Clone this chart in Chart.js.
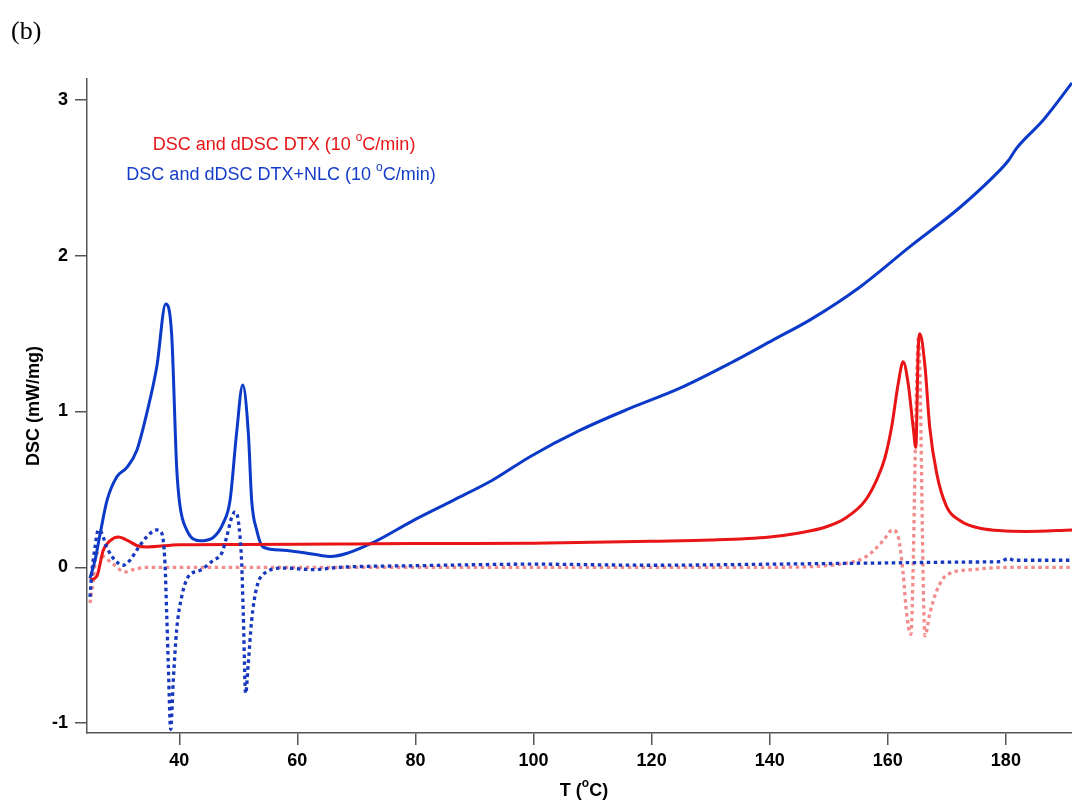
<!DOCTYPE html>
<html>
<head>
<meta charset="utf-8">
<script src="https://cdn.jsdelivr.net/npm/chart.js@4.4.1/dist/chart.umd.min.js"></script>
<style>
body { margin: 0; background: #fff; }
#wrap { width: 1072px; height: 801px; }
</style>
</head>
<body>
<div id="wrap"><canvas id="myChart" width="1072" height="801"></canvas></div>
<script>
// values, T in degC, DSC in mW/mg
const dscDtxT = [24.88, 26.0, 27.13, 28.26, 29.67, 31.36, 32.79, 34.48, 40, 50, 60, 70, 80, 90, 100, 110, 120, 130, 140, 145, 149.6, 153, 156.2, 158.1, 159.5, 160.65, 161.77, 162.6, 163.45, 164.3, 164.75, 165.15, 165.44, 166.3, 167.1, 168.3, 169.96, 172.2, 175.6, 183.5, 191.2];
const dscDtxY = [-0.08, -0.06, 0.11, 0.17, 0.195, 0.17, 0.14, 0.13, 0.145, 0.147, 0.148, 0.15, 0.152, 0.152, 0.155, 0.16, 0.167, 0.175, 0.195, 0.22, 0.26, 0.32, 0.43, 0.56, 0.70, 0.90, 1.18, 1.32, 1.18, 0.90, 0.77, 1.39, 1.50, 1.29, 0.90, 0.60, 0.39, 0.30, 0.25, 0.23, 0.24];

const ddscDtxT = [24.88, 25.44, 26.0, 27.13, 28.8, 30.8, 32.2, 34.5, 60, 100, 140, 151.9, 156.4, 159.2, 160.8, 161.77, 162.6, 163.2, 163.9, 165.2, 166.3, 167.1, 168.3, 169.96, 174.4, 180.1, 191.2];
const ddscDtxY = [-0.23, -0.08, 0.09, 0.07, 0.02, -0.03, -0.015, 0, 0, 0, 0, 0.02, 0.07, 0.17, 0.24, 0.195, -0.04, -0.30, -0.43, 1.48, -0.44, -0.30, -0.15, -0.05, -0.015, 0, 0];

const dscNlcT = [24.88, 25.73, 26.57, 27.76, 29.4, 31.1, 32.8, 34.5, 36.2, 37.7, 38.7, 39.56, 40.1, 41.25, 43.5, 45.7, 47.4, 48.6, 49.7, 50.74, 51.7, 52.26, 53.1, 54.2, 57.6, 63.8, 65.5, 72.3, 79.6, 86.4, 93.1, 99.4, 107.9, 116.3, 124.8, 133.3, 140.6, 146.9, 155.3, 163.8, 172.2, 179.0, 180.4, 181.8, 186.3, 191.2];
const dscNlcY = [-0.07, 0.045, 0.21, 0.43, 0.58, 0.64, 0.75, 0.99, 1.29, 1.69, 1.50, 0.64, 0.40, 0.24, 0.17, 0.19, 0.28, 0.43, 0.86, 1.17, 0.86, 0.43, 0.24, 0.13, 0.11, 0.077, 0.07, 0.15, 0.30, 0.43, 0.56, 0.71, 0.88, 1.02, 1.15, 1.31, 1.46, 1.59, 1.80, 2.06, 2.31, 2.55, 2.61, 2.69, 2.87, 3.11];

const ddscNlcT = [24.88, 25.17, 25.73, 26.28, 26.86, 27.7, 29.11, 30.52, 31.65, 32.79, 34.48, 36.17, 37.02, 37.58, 37.87, 38.14, 38.54, 38.98, 39.56, 40.4, 41.52, 43.51, 45.76, 47.18, 48.03, 48.87, 49.43, 49.99, 50.57, 50.84, 51.24, 51.68, 52.26, 53.11, 54.8, 57.6, 62.7, 67.2, 80, 100, 120, 140, 150, 160, 175, 179, 180.4, 181.5, 191.2];
const ddscNlcY = [-0.19, -0.04, 0.13, 0.24, 0.22, 0.13, 0.045, 0.013, 0.045, 0.11, 0.195, 0.24, 0.22, 0.025, -0.30, -0.62, -1.04, -0.73, -0.40, -0.19, -0.06, -0.02, 0.045, 0.09, 0.195, 0.32, 0.355, 0.30, 0.025, -0.30, -0.81, -0.62, -0.34, -0.13, -0.03, -0.005, -0.015, 0.0, 0.01, 0.02, 0.013, 0.02, 0.024, 0.028, 0.034, 0.036, 0.056, 0.045, 0.045];

const xTicks = [40, 60, 80, 100, 120, 140, 160, 180];
const yTicks = [-1, 0, 1, 2, 3];

const legendRed = [['DSC and dDSC DTX (10 ', false], ['o', true], ['C/min)', false]];
const legendBlue = [['DSC and dDSC DTX+NLC (10 ', false], ['o', true], ['C/min)', false]];
const xTitle = [['T (', false], ['o', true], ['C)', false]];

const sans = '"Liberation Sans", Arial, Helvetica, sans-serif';

function toPoints(xs, ys) {
    return xs.map((t, i) => ({ x: t, y: ys[i] }));
}

// text with a raised small "o" for the degree sign
function drawParts(ctx, parts, cx, y, size, weight, color) {
    const big = `${weight} ${size}px ${sans}`;
    const small = `${weight} ${Math.round(size * 0.65)}px ${sans}`;
    let total = 0;
    parts.forEach(p => {
        ctx.font = p[1] ? small : big;
        total += ctx.measureText(p[0]).width;
    });
    let x = cx - total / 2;
    ctx.fillStyle = color;
    ctx.textAlign = 'left';
    ctx.textBaseline = 'alphabetic';
    parts.forEach(p => {
        ctx.font = p[1] ? small : big;
        ctx.fillText(p[0], x, p[1] ? y - size * 0.48 : y);
        x += ctx.measureText(p[0]).width;
    });
}

const textPlugin = {
    id: 'texts',
    afterDraw(chart) {
        const ctx = chart.ctx;
        ctx.save();
        ctx.fillStyle = '#000';
        ctx.font = '26px "Liberation Serif", "Times New Roman", serif';
        ctx.textAlign = 'left';
        ctx.textBaseline = 'alphabetic';
        ctx.fillText('(b)', 11, 39);
        drawParts(ctx, legendRed, 284, 150, 18, 'normal', 'rgb(232,20,22)');
        drawParts(ctx, legendBlue, 281, 180, 18, 'normal', 'rgb(20,60,200)');
        drawParts(ctx, xTitle, 584, 796, 18, 'bold', '#000');
        ctx.restore();
    }
};

const config = {
    type: 'line',
    data: {
        datasets: [
            {
                label: 'dDSC DTX+NLC',
                data: toPoints(ddscNlcT, ddscNlcY),
                borderColor: 'rgb(22,55,190)',
                borderWidth: 3.3,
                borderDash: [3.5, 3.5],
            },
            {
                label: 'DSC DTX',
                data: toPoints(dscDtxT, dscDtxY),
                borderColor: 'rgb(232,20,22)',
                borderWidth: 3,
            },
            {
                label: 'DSC DTX+NLC',
                data: toPoints(dscNlcT, dscNlcY),
                borderColor: 'rgb(12,58,200)',
                borderWidth: 3,
            },
            {
                label: 'dDSC DTX',
                data: toPoints(ddscDtxT, ddscDtxY),
                borderColor: 'rgb(242,140,140)',
                borderWidth: 3.3,
                borderDash: [3.5, 3.5],
            }
        ]
    },
    options: {
        responsive: false,
        animation: false,
        cubicInterpolationMode: 'monotone',
        pointRadius: 0,
        layout: { padding: { top: 79, left: 0, right: 0, bottom: 0 } },
        plugins: {
            legend: { display: false },
            tooltip: { enabled: false },
            title: { display: false }
        },
        scales: {
            x: {
                type: 'linear',
                min: 24.37,
                max: 191.2,
                afterBuildTicks: (s) => { s.ticks = xTicks.map(v => ({ value: v })); },
                afterFit: (s) => { s.height = 68; s.paddingLeft = 0; s.paddingRight = 0; },
                grid: { display: true, drawOnChartArea: false, drawTicks: true, tickLength: 12, color: '#555', lineWidth: 1.5 },
                border: { display: true, color: '#555', width: 1.5 },
                ticks: { color: '#000', padding: 5, maxRotation: 0, font: { family: sans, size: 18, weight: 'bold' } }
            },
            y: {
                min: -1.064,
                max: 3.135,
                afterBuildTicks: (s) => { s.ticks = yTicks.map(v => ({ value: v })); },
                afterFit: (s) => { s.width = 87; s.paddingTop = 0; s.paddingBottom = 0; },
                grid: { display: true, drawOnChartArea: false, drawTicks: true, tickLength: 12, color: '#555', lineWidth: 1.5 },
                border: { display: true, color: '#555', width: 1.5 },
                ticks: { color: '#000', padding: 7, font: { family: sans, size: 18, weight: 'bold' } },
                title: {
                    display: true,
                    text: 'DSC (mW/mg)',
                    color: '#000',
                    font: { family: sans, size: 18, weight: 'bold' },
                    padding: { top: 23, bottom: 0 }
                }
            }
        }
    },
    plugins: [textPlugin]
};

const myChart = new Chart(document.getElementById('myChart'), config);
</script>
</body>
</html>
